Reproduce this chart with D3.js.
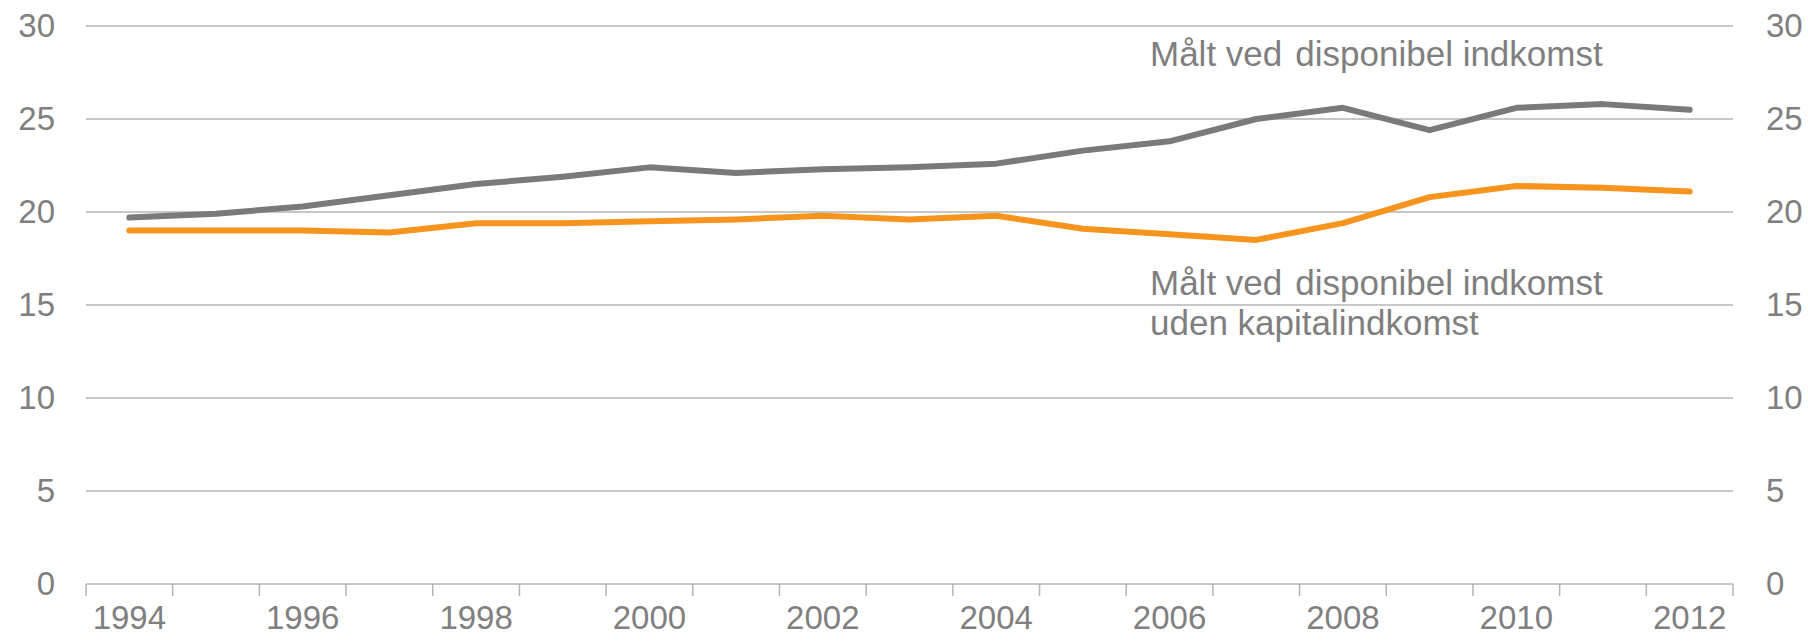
<!DOCTYPE html>
<html>
<head>
<meta charset="utf-8">
<script src="https://cdn.jsdelivr.net/npm/d3@7"></script>
<style>
  body { margin: 0; background: #fff; }
  text { font-family: "Liberation Sans", Arial, sans-serif; }
</style>
</head>
<body>
<div id="chart"></div>
<script>
let years = [1994,1995,1996,1997,1998,1999,2000,2001,2002,2003,2004,2005,2006,2007,2008,2009,2010,2011,2012];
let disponibel = [19.7,19.9,20.3,20.9,21.5,21.9,22.4,22.1,22.3,22.4,22.6,23.3,23.8,25.0,25.6,24.4,25.6,25.8,25.5];
let udenKapital = [19.0,19.0,19.0,18.9,19.4,19.4,19.5,19.6,19.8,19.6,19.8,19.1,18.8,18.5,19.4,20.8,21.4,21.3,21.1];
let yTicks = [0,5,10,15,20,25,30];
let xLabels = [1994,1996,1998,2000,2002,2004,2006,2008,2010,2012];

let screen = {width:1808, height:642};
let margin = {top:26, right:75, bottom:58, left:86};
let textColor = "#7f7f7f";
let gridColor = "#b4b4b4";

let svg = d3.select("#chart")
            .append("svg")
            .attr("width", screen.width)
            .attr("height", screen.height);

let xScale = d3.scaleBand()
               .domain(years)
               .range([margin.left, screen.width-margin.right])
               .padding(0);
let yScale = d3.scaleLinear()
               .domain([0,30])
               .range([screen.height-margin.bottom, margin.top]);

// gridlines
svg.append("g")
   .selectAll("line")
   .data(yTicks)
   .enter()
   .append("line")
   .attr("x1", margin.left)
   .attr("x2", screen.width-margin.right)
   .attr("y1", d => yScale(d))
   .attr("y2", d => yScale(d))
   .attr("stroke", gridColor)
   .attr("stroke-width", 1.5);

// tick marks between categories
let bounds = years.map(d => xScale(d)).concat([screen.width-margin.right]);
svg.append("g")
   .selectAll("line")
   .data(bounds)
   .enter()
   .append("line")
   .attr("x1", d => d)
   .attr("x2", d => d)
   .attr("y1", yScale(0))
   .attr("y2", yScale(0)+12)
   .attr("stroke", gridColor)
   .attr("stroke-width", 1.5);

// y labels left and right
let yLeft = svg.append("g")
   .attr("transform", "translate(55,0)")
   .call(d3.axisLeft(yScale).tickValues(yTicks).tickSize(0).tickPadding(0));
let yRight = svg.append("g")
   .attr("transform", "translate(1766,0)")
   .call(d3.axisRight(yScale).tickValues(yTicks).tickSize(0).tickPadding(0));

// x labels
let xAxis = svg.append("g")
   .attr("transform", "translate(0,"+yScale(0)+")")
   .call(d3.axisBottom(xScale).tickValues(xLabels).tickSize(0).tickPadding(30));

[yLeft, yRight, xAxis].forEach(function(ax)
{
    ax.select(".domain").remove();
    ax.selectAll("text")
      .attr("fill", textColor)
      .style("font-size", "33px")
      .style("font-family", "'Liberation Sans', Arial, sans-serif");
});
xAxis.selectAll("text").attr("dy", "0.71em").attr("y", 22);

let line = d3.line()
             .x((d,i) => xScale(years[i]) + xScale.bandwidth()/2)
             .y(d => yScale(d));

svg.append("path")
   .datum(disponibel)
   .attr("d", line)
   .attr("fill", "none")
   .attr("stroke", "#7a7a7a")
   .attr("stroke-width", 6)
   .attr("stroke-linecap", "round")
   .attr("stroke-linejoin", "round");

svg.append("path")
   .datum(udenKapital)
   .attr("d", line)
   .attr("fill", "none")
   .attr("stroke", "#f7941d")
   .attr("stroke-width", 6)
   .attr("stroke-linecap", "round")
   .attr("stroke-linejoin", "round");

// labels for lines
let notes = [
    {a:"Målt ved", b:"disponibel indkomst", x:1150, y:66},
    {a:"Målt ved", b:"disponibel indkomst", x:1150, y:295},
    {a:"uden kapitalindkomst", b:"", x:1150, y:335}
];
let noteText = svg.append("g")
   .selectAll("text")
   .data(notes)
   .enter()
   .append("text")
   .attr("x", d => d.x)
   .attr("y", d => d.y)
   .attr("fill", textColor)
   .style("font-size", "35px");
noteText.append("tspan").text(d => d.a);
noteText.filter(d => d.b !== "")
        .append("tspan")
        .attr("dx", 13)
        .text(d => d.b);
</script>
</body>
</html>
